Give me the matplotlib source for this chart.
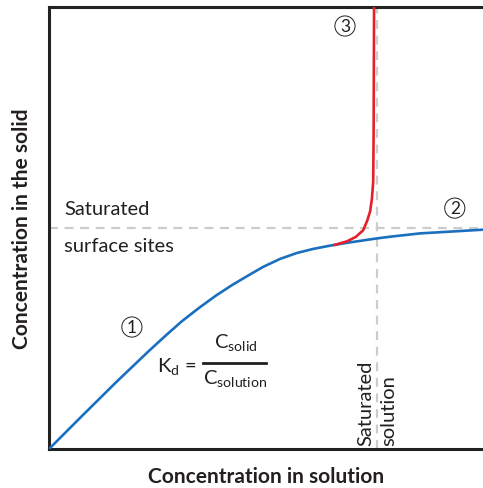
import numpy as np
import matplotlib.pyplot as plt
from matplotlib.lines import Line2D

# values (arbitrary units, 0-100 on both axes)
sorb_x = [0, 7.6, 15.4, 23.0, 27.0, 30.6, 34.6, 38.5, 42.2, 46.1, 49.3, 53.2,
          57.1, 60.8, 64.7, 68.7, 72.4, 75.6, 78.6, 85.5, 100]
sorb_y = [0, 7.47, 15.05, 22.17, 25.77, 28.89, 31.95, 34.73, 37.10, 39.37, 41.18, 42.99,
          44.34, 45.25, 46.0, 46.65, 47.19, 47.65, 48.03, 48.78, 49.62]

precip_x = [65.9, 68.7, 70.7, 72.4, 73.3, 74.0, 74.4, 74.7, 74.8, 74.9]
precip_y = [46.2, 47.0, 48.0, 49.5, 51.6, 53.8, 56.6, 60.4, 71.7, 100]

sat_surface = 50.0
sat_solution = 75.6

blue = '#1b6fbf'
red = '#e5202a'
gray = '#cccccc'
ink = '#231f20'

plt.rcParams['font.family'] = ['Lato', 'DejaVu Sans']

fig = plt.figure(figsize=(4.83, 4.89), dpi=100)
ax = fig.add_axes([49/483, 39/489, 434/483, (450 - 8)/489])

ax.axhline(sat_surface, color=gray, lw=1.6, ls=(0, (4, 3)), zorder=1)
ax.axvline(sat_solution, color=gray, lw=1.6, ls=(0, (4, 3)), zorder=1)
ax.plot(sorb_x, sorb_y, color=blue, lw=1.9, zorder=3, solid_joinstyle='round')
ax.plot(precip_x, precip_y, color=red, lw=1.9, zorder=4, solid_joinstyle='round')

ax.set_xlim(0, 100)
ax.set_ylim(0, 100)
ax.set_xticks([])
ax.set_yticks([])
for s in ['left', 'bottom', 'top']:
    ax.spines[s].set_linewidth(2.2)
    ax.spines[s].set_color('#222222')
ax.spines['right'].set_visible(False)

ax.set_xlabel('Concentration in solution', fontsize=15, fontweight='bold', color=ink, labelpad=12)
ax.set_ylabel('Concentration in the solid', fontsize=15, fontweight='bold', color=ink, labelpad=12)

ax.text(3.5, 52.5, 'Saturated', fontsize=14.5, color=ink, va='bottom')
ax.text(3.5, 48.0, 'surface sites', fontsize=14.5, color=ink, va='top')

ax.text(sat_solution, 1.0, 'Saturated\nsolution', rotation=90, fontsize=14.5, color=ink,
        ha='center', va='bottom', multialignment='left', linespacing=1.45)

circ = dict(fontsize=12.5, color=ink, ha='center', va='center',
            bbox=dict(boxstyle='circle,pad=0.12', fc='none', ec=ink, lw=0.7))
ax.text(19.1, 27.6, '1', **circ)
ax.text(93.5, 54.5, '2', **circ)
ax.text(68.2, 95.7, '3', **circ)

ax.text(24.8, 18.8, r'K$_\mathregular{d}$ =', fontsize=14.5, color=ink, ha='left', va='center')
ax.text(43.0, 21.8, r'C$_\mathregular{solid}$', fontsize=14.5, color=ink, ha='center', va='bottom')
ax.text(43.0, 18.3, r'C$_\mathregular{solution}$', fontsize=14.5, color=ink, ha='center', va='top')
ax.add_line(Line2D([35.5, 50.0], [19.4, 19.4], color=ink, lw=2.0))

plt.savefig('out.png', dpi=100)
